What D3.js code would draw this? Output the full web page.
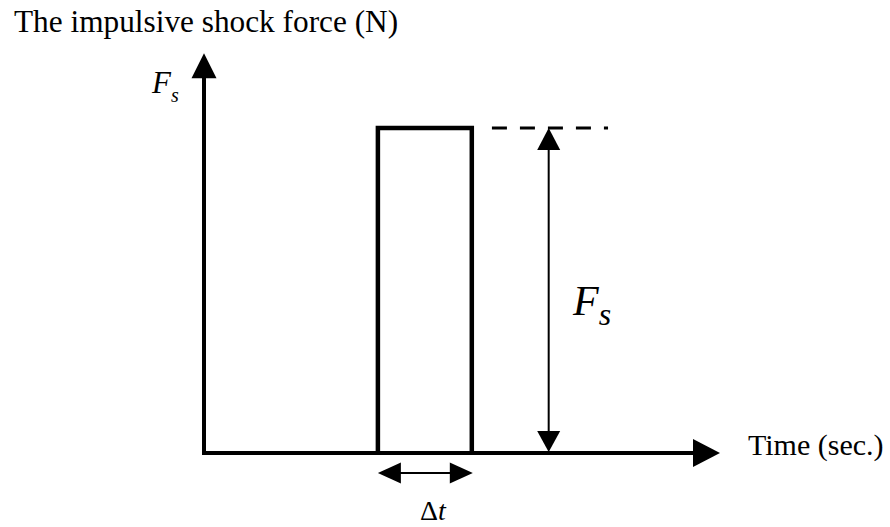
<!DOCTYPE html>
<html lang="en">
<head>
<meta charset="UTF-8">
<title>Impulsive shock force</title>
<script src="https://d3js.org/d3.v7.min.js"></script>
<style>
  body { margin: 0; background: #fff; }
  svg { display: block; font-family: 'Liberation Serif', 'Times New Roman', serif; }
</style>
</head>
<body>
<div id="chart"></div>
<script>
// time axis runs 0..10 (arbitrary units), force axis 0..1 (Fs = 1)
const timeDomain = [0, 10];
const forceDomain = [0, 1];
const axisTop = 1.23;          // force value where the y arrow tip sits
const pulse = [                 // rectangular pulse of height Fs, width Δt
  { t: 3.37, f: 0 }, { t: 3.37, f: 1 }, { t: 5.19, f: 1 }, { t: 5.19, f: 0 }
];
const dashLine = [5.58, 7.83]; // dashed extension of the pulse top
const measureT = 6.68;         // where the Fs dimension arrow stands
const labels = {
  yTitle: "The impulsive shock force (N)",
  xTitle: "Time (sec.)"
};

const W = 890, H = 527;
const x = d3.scaleLinear().domain(timeDomain).range([204, 720]);
const y = d3.scaleLinear().domain(forceDomain).range([453, 128]);

const svg = d3.select("#chart").append("svg")
  .attr("width", W).attr("height", H);

// arrow head polygon: tip point, unit direction, length, half width
function head(tx, ty, dx, dy, len, hw) {
  const bx = tx - dx * len, by = ty - dy * len;
  const px = -dy, py = dx;
  return `M${tx},${ty}L${bx + px * hw},${by + py * hw}L${bx - px * hw},${by - py * hw}Z`;
}

// axes
const x0 = x(0), y0 = y(0);
const yTip = y(axisTop), xTip = x(timeDomain[1]);
svg.append("path")
  .attr("d", `M${x0},${yTip + 24}L${x0},${y0}L${xTip - 26},${y0}`)
  .attr("fill", "none").attr("stroke", "#000").attr("stroke-width", 4)
  .attr("stroke-linejoin", "miter");
svg.append("path").attr("d", head(x0, yTip, 0, -1, 25, 12.5)).attr("fill", "#000");
svg.append("path").attr("d", head(xTip, y0, 1, 0, 27, 14)).attr("fill", "#000");

// pulse
const line = d3.line().x(d => x(d.t)).y(d => y(d.f));
svg.append("path")
  .attr("d", line(pulse))
  .attr("fill", "none").attr("stroke", "#000").attr("stroke-width", 4.5)
  .attr("stroke-linejoin", "miter");

// dashed level line
svg.append("line")
  .attr("x1", x(dashLine[0])).attr("x2", x(dashLine[1]))
  .attr("y1", y(1)).attr("y2", y(1))
  .attr("stroke", "#000").attr("stroke-width", 3)
  .attr("stroke-dasharray", "15,13");

// Fs dimension arrow
const mx = x(measureT);
svg.append("line")
  .attr("x1", mx).attr("x2", mx)
  .attr("y1", y(1) + 20).attr("y2", y(0) - 19)
  .attr("stroke", "#000").attr("stroke-width", 2);
svg.append("path").attr("d", head(mx, y(1), 0, -1, 22, 11.5)).attr("fill", "#000");
svg.append("path").attr("d", head(mx, y(0) - 1, 0, 1, 21, 11.5)).attr("fill", "#000");

// Δt dimension arrow
const dy = y0 + 20;
const tA = x(pulse[0].t), tB = x(pulse[2].t);
svg.append("line")
  .attr("x1", tA + 20).attr("x2", tB - 20)
  .attr("y1", dy).attr("y2", dy)
  .attr("stroke", "#000").attr("stroke-width", 2);
svg.append("path").attr("d", head(tA, dy, -1, 0, 23, 10.5)).attr("fill", "#000");
svg.append("path").attr("d", head(tB + 1, dy, 1, 0, 23, 10.5)).attr("fill", "#000");

// texts
svg.append("text").attr("x", 14).attr("y", 32)
  .attr("font-size", 31.3).text(labels.yTitle);
svg.append("text").attr("x", 748).attr("y", 455)
  .attr("font-size", 30).text(labels.xTitle);

function fsLabel(px, py, size, subSize, subShift) {
  const t = svg.append("text").attr("x", px).attr("y", py)
    .attr("font-size", size).attr("font-style", "italic");
  t.append("tspan").text("F");
  t.append("tspan").attr("font-size", subSize).attr("dy", subShift).text("s");
}
fsLabel(152, 93, 31, 20, 9);
fsLabel(573, 315, 42, 32, 10);

const dt = svg.append("text").attr("x", 433).attr("y", 520)
  .attr("text-anchor", "middle").attr("font-size", 28);
dt.append("tspan").text("Δ");
dt.append("tspan").attr("font-style", "italic").text("t");
</script>
</body>
</html>
